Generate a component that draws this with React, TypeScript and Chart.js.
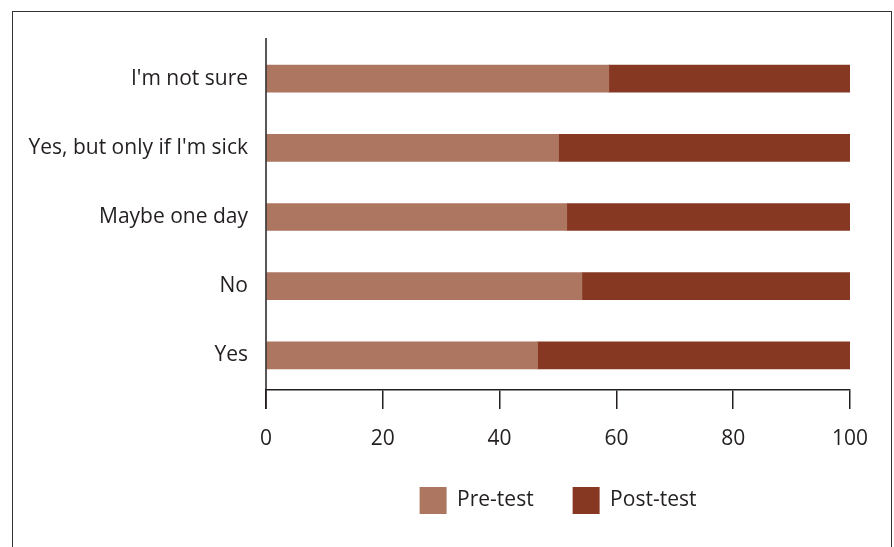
import React, { useEffect, useRef } from "react";
import { Chart, registerables } from "chart.js";

Chart.register(...registerables);

const categories = ["I'm not sure", "Yes, but only if I'm sick", "Maybe one day", "No", "Yes"];
const preTest = [58.7, 50.1, 51.5, 54.1, 46.5];
const postTest = [41.3, 49.9, 48.5, 45.9, 53.5];
const xTicks = [0, 20, 40, 60, 80, 100];

const INK = "#231f20";
const FONT = "'Open Sans', sans-serif";

const axisLinePlugin = {
  id: "axisLine",
  afterDraw(chart: any) {
    const { ctx, chartArea } = chart;
    ctx.save();
    ctx.strokeStyle = INK;
    ctx.lineWidth = 1.5;
    ctx.beginPath();
    ctx.moveTo(chartArea.left, chartArea.top - 6);
    ctx.lineTo(chartArea.left, chartArea.bottom + 19);
    ctx.stroke();
    ctx.restore();
  },
};

export default function App() {
  const ref = useRef<HTMLCanvasElement>(null);
  useEffect(() => {
    if (!ref.current) return;
    const chart = new Chart(ref.current, {
      type: "bar",
      data: {
        labels: categories,
        datasets: [
          { label: "Pre-test", data: preTest, backgroundColor: "#ad7660", barThickness: 27 },
          { label: "Post-test", data: postTest, backgroundColor: "#873822", barThickness: 27 },
        ],
      },
      options: {
        indexAxis: "y",
        animation: false,
        responsive: false,
        devicePixelRatio: 1,
        layout: { padding: { left: 0, top: 44, right: 44, bottom: 23 } },
        scales: {
          x: {
            stacked: true,
            min: 0,
            max: 100,
            afterBuildTicks: (scale: any) => {
              scale.ticks = xTicks.map((v) => ({ value: v }));
            },
            afterFit: (scale: any) => {
              scale.height = 58;
            },
            grid: {
              display: true,
              drawOnChartArea: false,
              drawTicks: true,
              tickLength: 19,
              color: INK,
              lineWidth: 1.5,
            },
            border: { display: true, color: INK, width: 1.5 },
            ticks: {
              color: INK,
              padding: 17,
              font: { family: FONT, size: 21 },
              maxRotation: 0,
            },
          },
          y: {
            stacked: true,
            afterFit: (scale: any) => {
              scale.width = 266;
            },
            grid: { display: false, drawTicks: false },
            border: { display: false },
            ticks: {
              color: INK,
              padding: 18,
              font: { family: FONT, size: 21 },
            },
          },
        },
        plugins: {
          legend: {
            position: "bottom",
            fullSize: false,
            labels: {
              boxWidth: 27,
              boxHeight: 27,
              padding: 39,
              color: INK,
              font: { family: FONT, size: 21 },
            },
          },
          tooltip: { enabled: false },
        },
      },
      plugins: [axisLinePlugin],
    } as any);
    return () => chart.destroy();
  }, []);

  return (
    <div style={{ position: "fixed", left: 0, top: 0, width: 894, height: 547, background: "#fff" }}>
      <div
        style={{
          position: "absolute",
          left: 12,
          top: 11,
          width: 878,
          height: 600,
          border: "1px solid #333",
        }}
      />
      <canvas
        ref={ref}
        width={894}
        height={547}
        style={{ position: "absolute", left: 0, top: 0, width: 894, height: 547 }}
      />
    </div>
  );
}
